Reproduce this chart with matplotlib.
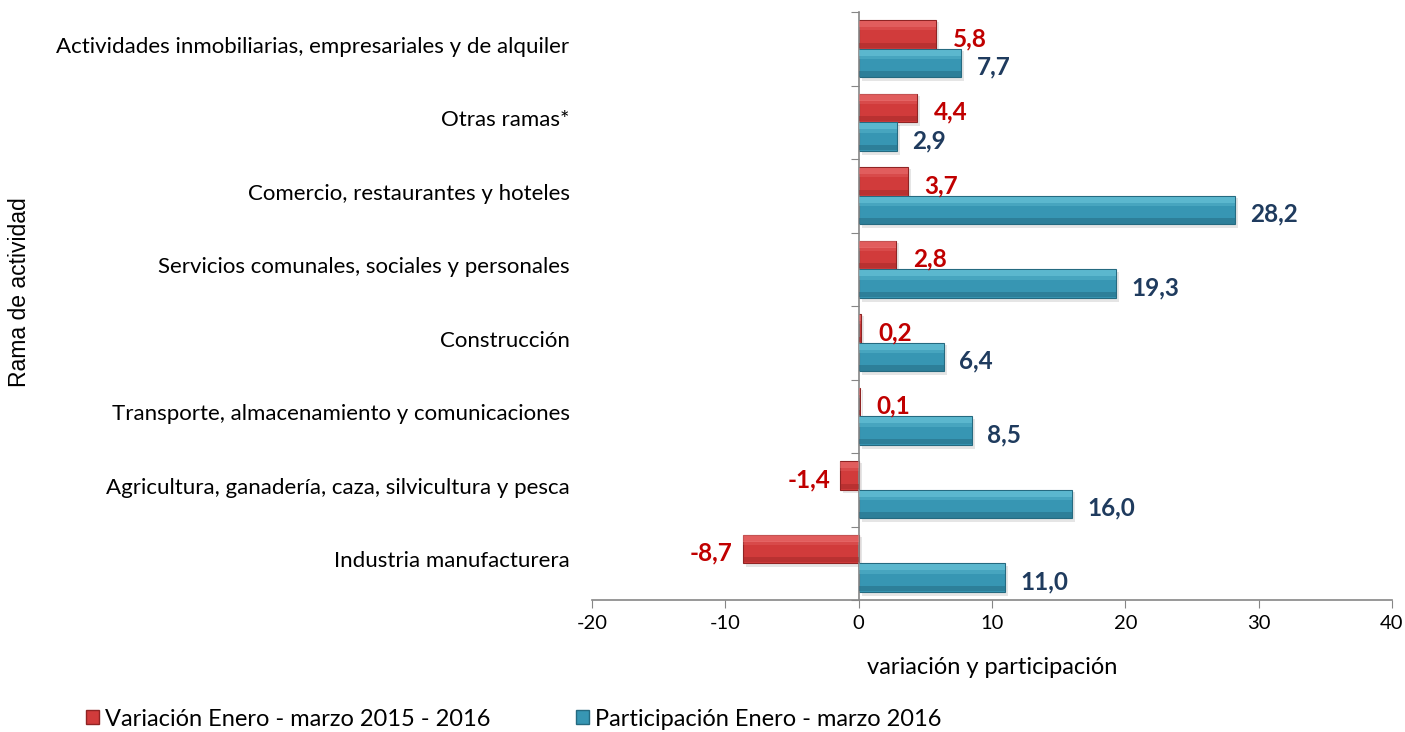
import matplotlib
matplotlib.use("Agg")
import matplotlib.pyplot as plt
import matplotlib.transforms as mtransforms
from matplotlib.patches import Patch
import numpy as np

categories = [
    "Industria manufacturera",
    "Agricultura, ganadería, caza, silvicultura y pesca",
    "Transporte, almacenamiento y comunicaciones",
    "Construcción",
    "Servicios comunales, sociales y personales",
    "Comercio, restaurantes y hoteles",
    "Otras ramas*",
    "Actividades inmobiliarias, empresariales y de alquiler",
]
variacion = [-8.7, -1.4, 0.1, 0.2, 2.8, 3.7, 4.4, 5.8]
participacion = [11.0, 16.0, 8.5, 6.4, 19.3, 28.2, 2.9, 7.7]
xticks = [-20, -10, 0, 10, 20, 30, 40]
series_names = ["Variación Enero - marzo 2015 - 2016", "Participación Enero - marzo 2016"]

plt.rcParams['font.family'] = ['Lato', 'DejaVu Sans']

fig = plt.figure(figsize=(14.05, 7.32), dpi=100)
ax = fig.add_axes([592/1405, 1-600/732, 800/1405, 588/732])

y = np.arange(len(categories))
h = 0.39
red_main, red_hi, red_lo, red_edge = "#D13B3B", "#F07A7A", "#9C2626", "#8F2424"
blue_main, blue_hi, blue_lo, blue_edge = "#3796B3", "#7AD3E6", "#22647A", "#256A80"

shadow = mtransforms.offset_copy(ax.transData, fig=fig, x=3, y=-3, units='dots')

def draw(vals, ypos, main, hi, lo, edge):
    ax.barh(ypos, vals, height=h*1.05, color="#000000", alpha=0.10, transform=shadow, zorder=1, linewidth=0)
    ax.barh(ypos, vals, height=h, color=main, edgecolor=edge, linewidth=0.8, zorder=2)
    ax.barh(ypos + h*0.36, vals, height=h*0.22, color=hi, alpha=0.55, linewidth=0, zorder=3)
    ax.barh(ypos + h*0.20, vals, height=h*0.12, color=hi, alpha=0.25, linewidth=0, zorder=3)
    ax.barh(ypos - h*0.38, vals, height=h*0.18, color=lo, alpha=0.45, linewidth=0, zorder=3)

draw(variacion, y + h/2, red_main, red_hi, red_lo, red_edge)
draw(participacion, y - h/2, blue_main, blue_hi, blue_lo, blue_edge)

def fmt(v):
    return f"{v:.1f}".replace(".", ",")

for yi, v in zip(y + h/2, variacion):
    off = 12 if v >= 0 else -7
    ax.annotate(fmt(v), (v, yi), xytext=(off, -3), textcoords='offset points',
                ha='left' if v >= 0 else 'right', va='center',
                fontsize=17.5, fontweight='bold', color="#C00000")
for yi, v in zip(y - h/2, participacion):
    ax.annotate(fmt(v), (v, yi), xytext=(11, -3), textcoords='offset points',
                ha='left', va='center', fontsize=17.5, fontweight='bold', color="#1F3B5E")

ax.set_xlim(-20, 40)
ax.set_ylim(-0.5, len(categories) - 0.5)
ax.set_xticks(xticks)
ax.set_xticklabels([str(t) for t in xticks], fontsize=14.5)
ax.tick_params(axis='x', length=6, color="#868686", pad=5)

ax.spines['left'].set_position(('data', 0))
for s in ['top', 'right']:
    ax.spines[s].set_visible(False)
for s in ['left', 'bottom']:
    ax.spines[s].set_color("#868686")
    ax.spines[s].set_linewidth(1.2)

ax.set_yticks(np.arange(-0.5, len(categories), 1.0))
ax.set_yticklabels([])
ax.tick_params(axis='y', length=6, color="#868686", direction='out')

trans = mtransforms.blended_transform_factory(ax.transAxes, ax.transData)
for yi, c in zip(y, categories):
    ax.text(-0.028, yi + 0.03, c, transform=trans, ha='right', va='center', fontsize=16, color="#000000")

ax.set_xlabel("variación y participación", fontsize=17, labelpad=18)
fig.text(20/1405, 1-292/732, "Rama de actividad", rotation=90, ha='center', va='center',
         fontsize=16.5, family=['Liberation Sans', 'DejaVu Sans'])

handles = [Patch(facecolor=red_main, edgecolor=red_edge), Patch(facecolor=blue_main, edgecolor=blue_edge)]
fig.legend(handles, series_names, loc='center left', bbox_to_anchor=(77/1405, 1-719/732), ncol=2,
           frameon=False, fontsize=17, handlelength=0.55, handleheight=0.55, handletextpad=0.25,
           columnspacing=3.6, borderaxespad=0)

fig.savefig("out.png", dpi=100, facecolor="white")
